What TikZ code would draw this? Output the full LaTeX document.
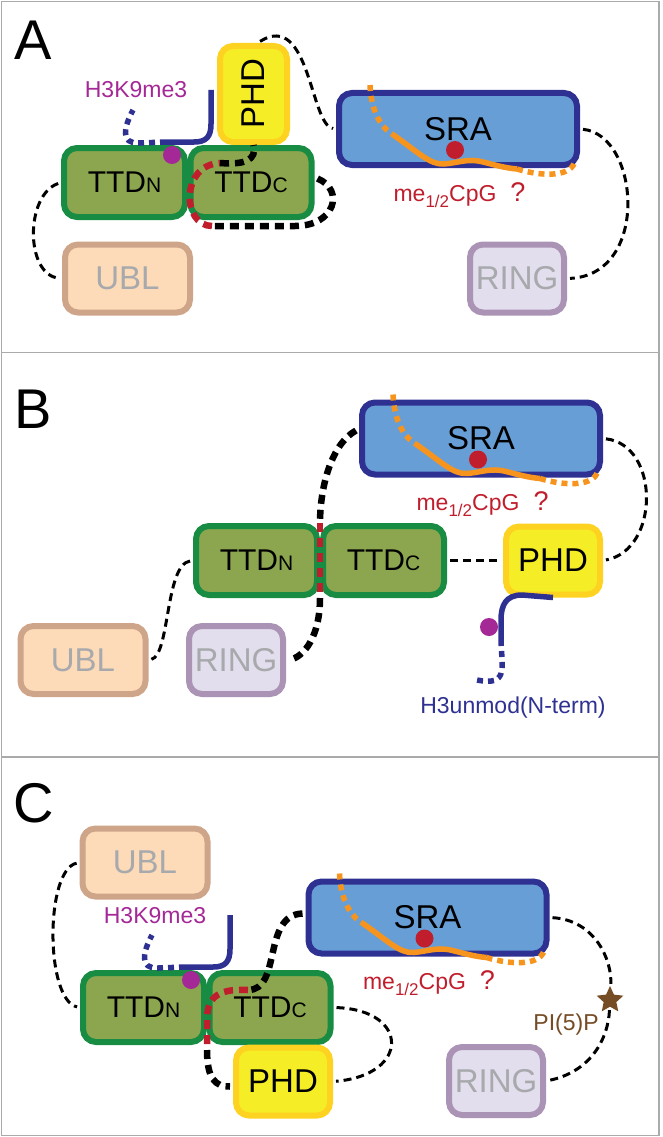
\documentclass[tikz,border=0pt]{standalone}
\usepackage{fontspec}
\setmainfont{Liberation Sans}
\usetikzlibrary{shapes.geometric}

\definecolor{ttdfill}{RGB}{139,166,78}
\definecolor{ttdline}{RGB}{24,140,66}
\definecolor{phdfill}{RGB}{245,237,38}
\definecolor{phdline}{RGB}{254,210,32}
\definecolor{srafill}{RGB}{104,158,214}
\definecolor{sraline}{RGB}{46,49,146}
\definecolor{ublfill}{RGB}{253,219,184}
\definecolor{ublline}{RGB}{206,165,136}
\definecolor{ringfill}{RGB}{227,222,237}
\definecolor{ringline}{RGB}{171,147,181}
\definecolor{dimtext}{RGB}{167,169,172}
\definecolor{kmagenta}{RGB}{164,40,150}
\definecolor{cpgred}{RGB}{192,30,45}
\definecolor{dnaorange}{RGB}{247,148,29}
\definecolor{tailblue}{RGB}{46,49,146}
\definecolor{pipbrown}{RGB}{117,76,36}
\definecolor{panelgray}{RGB}{170,170,170}

\tikzset{
    dom/.style={rounded corners=13pt, line width=6pt, inner sep=0, font=\fontsize{33}{33}\selectfont},
    ttd/.style={dom, draw=ttdline, fill=ttdfill, minimum width=121pt, minimum height=69pt, font=\fontsize{30}{30}\selectfont},
    phd/.style={dom, draw=phdline, fill=phdfill, minimum width=94pt, minimum height=68pt},
    sra/.style={dom, draw=sraline, fill=srafill, minimum width=238pt, minimum height=72pt},
    ubl/.style={dom, draw=ublline, fill=ublfill, text=dimtext, minimum width=125pt, minimum height=68pt},
    ringbox/.style={dom, draw=ringline, fill=ringfill, text=dimtext, minimum width=94pt, minimum height=68pt},
    link/.style={line width=3pt, dash pattern=on 8pt off 5pt, shorten <=3pt, shorten >=3pt},
    hinge/.style={line width=6.5pt, dash pattern=on 9pt off 6pt},
    hingered/.style={hinge, draw=cpgred},
    dna/.style={draw=dnaorange, line width=5.5pt},
    dnadots/.style={dna, dash pattern=on 6pt off 5pt},
    tail/.style={draw=tailblue, line width=5.5pt},
    taildots/.style={tail, dash pattern=on 6pt off 5pt},
    blob/.style={circle, inner sep=0, minimum size=18pt},
    lbl/.style={font=\fontsize{23}{23}\selectfont},
    tag/.style={font=\fontsize{56}{56}\selectfont},
    panelbox/.style={draw=panelgray, line width=1.5pt}
}

\newcommand{\ttdn}{TTD{\fontsize{21}{21}\selectfont N}}
\newcommand{\ttdc}{TTD{\fontsize{21}{21}\selectfont C}}

% hemimethylated CpG strand on an SRA box
\newcommand{\cpg}[1]{
    \begin{scope}[shift={(#1.north west)}, shift={(-3,-3)}]
        \draw[dnadots] (37,-2) .. controls (38,20) and (45,38) .. (59,47);
        \draw[dna] (59,47) .. controls (85,65) and (97,78) .. (111,77) .. controls (125,76) and (135,71) .. (150,75) .. controls (162,78) and (172,81) .. (184,82);
        \draw[dnadots] (184,82) .. controls (210,90) and (240,90) .. (242,73);
        \node[blob, fill=cpgred] (dot#1) at (122,63) {};
        \node[lbl, text=cpgred, anchor=base] (me#1) at (112,114) {me\raisebox{-6pt}{\fontsize{17}{17}\selectfont 1/2}CpG};
        \node[lbl, text=cpgred, anchor=base, font=\fontsize{27}{27}\selectfont] (q#1) at (185,114) {?};
    \end{scope}
}

% H3K9me3 tail on a TTDN box
\newcommand{\hthree}[1]{
    \begin{scope}[shift={(#1.north west)}, shift={(-3,-3)}]
        \draw[tail] (153,-52) -- (153,-18) .. controls (153,-5) and (148,0) .. (136,0) -- (108,0);
        \draw[taildots] (108,0) -- (81,1) .. controls (62,2) and (66,-15) .. (75,-32);
        \node[blob, fill=kmagenta] (k#1) at (114,13) {};
        \node[lbl, text=kmagenta, anchor=base] (lbl#1) at (78,-44) {H3K9me3};
    \end{scope}
}

\begin{document}
\begin{tikzpicture}[x=1pt, y=-1pt]
    \useasboundingbox (0,0) rectangle (663,1137);
    \draw[panelbox] (1.5,1.5) rectangle (659,352.5);
    \draw[panelbox] (1.5,352.5) rectangle (659,757);
    \draw[panelbox] (1.5,757) rectangle (659,1135.5);

    % A
    \node[tag] (tagA) at (33,40) {A};
    \node[phd, minimum width=67pt, minimum height=96pt] (phdA) at (253.5,94) {\rotatebox{90}{PHD}};
    \node[ttd] (ttdnA) at (124.5,182.5) {\ttdn};
    \node[ttd] (ttdcA) at (251,182.5) {\ttdc};
    \node[sra] (sraA) at (458,129) {SRA};
    \node[ubl] (ublA) at (127.5,278.5) {UBL};
    \node[ringbox] (ringA) at (517,278.5) {RING};
    \draw[link] (ttdnA.west) .. controls (25,195) and (25,275) .. (ublA.west);
    \draw[link] ([xshift=4pt]phdA.north) .. controls (310,10) and (310,125) .. (sraA.west);
    \draw[link] (sraA.east) .. controls (640,135) and (650,275) .. (ringA.east);
    \coordinate (turnA1) at (212,226);
    \coordinate (turnA2) at (220,163);
    \draw[hinge] ([xshift=3pt, yshift=4pt]ttdcA.east) .. controls (345,190) and (335,226) .. (295,226) -- (turnA1);
    \draw[hingered] (turnA1) .. controls (182,226) and (180,165) .. (turnA2);
    \draw[hinge] (turnA2) .. controls (245,165) and (257,160) .. (phdA.south);
    \hthree{ttdnA}
    \cpg{sraA}

    % B
    \node[tag] (tagB) at (33,409) {B};
    \node[sra] (sraB) at (481,438.5) {SRA};
    \node[ttd] (ttdnB) at (256.5,560.5) {\ttdn};
    \node[ttd] (ttdcB) at (383.5,560.5) {\ttdc};
    \node[phd] (phdB) at (553,560.5) {PHD};
    \node[ubl] (ublB) at (83,660) {UBL};
    \node[ringbox] (ringB) at (236,660) {RING};
    \coordinate (seamBt) at (320,523);
    \coordinate (seamBb) at (320,598);
    \draw[link] (ttdcB.east) -- (phdB.west);
    \draw[link] (sraB.east) .. controls (660,445) and (660,550) .. (phdB.east);
    \draw[link] (ttdnB.west) .. controls (165,565) and (170,655) .. (ublB.east);
    \draw[hinge] ([xshift=-3pt, yshift=8pt]sraB.west) .. controls (330,445) and (320,490) .. (seamBt);
    \draw[hingered] (seamBt) -- (seamBb);
    \draw[hinge] (seamBb) .. controls (320,635) and (305,657) .. ([xshift=3pt]ringB.east);
    \cpg{sraB}
    \draw[tail] (phdB.south) -- (522,595) .. controls (506,595) and (501,605) .. (501,620) -- (501,640);
    \draw[taildots] (501,640) .. controls (502,670) and (508,686) .. (477,680);
    \node[blob, fill=kmagenta] (kB) at (489,627) {};
    \node[lbl, text=tailblue, anchor=base] (unmodB) at (513,713) {H3unmod(N-term)};

    % C
    \node[tag] (tagC) at (34,803) {C};
    \node[ubl] (ublC) at (145,862.5) {UBL};
    \node[sra] (sraC) at (427.5,917.5) {SRA};
    \node[ttd] (ttdnC) at (143.5,1007.5) {\ttdn};
    \node[ttd] (ttdcC) at (270,1007.5) {\ttdc};
    \node[phd] (phdC) at (283,1081.5) {PHD};
    \node[ringbox] (ringC) at (496,1081) {RING};
    \node[star, star points=5, star point ratio=2.1, fill=pipbrown, inner sep=0, minimum size=28pt] (pip) at (610,1000) {};
    \draw[link] (ublC.west) .. controls (45,870) and (45,1000) .. (ttdnC.west);
    \draw[link] (sraC.east) .. controls (595,920) and (612,960) .. (pip);
    \draw[link] (pip) .. controls (608,1040) and (590,1072) .. (ringC.east);
    \draw[link] (ttdcC.east) .. controls (410,1010) and (410,1075) .. (phdC.east);
    \coordinate (turnC1) at (248,990);
    \coordinate (turnC2) at (207,1050);
    \draw[hinge] ([xshift=-3pt, yshift=4pt]sraC.west) .. controls (262,915) and (282,990) .. (turnC1);
    \draw[hingered] (turnC1) .. controls (215,988) and (207,1000) .. (207,1020) -- (turnC2);
    \draw[hinge] (turnC2) .. controls (207,1078) and (215,1087) .. ([xshift=-3pt, yshift=-5pt]phdC.west);
    \hthree{ttdnC}
    \cpg{sraC}
    \node[lbl, text=pipbrown, anchor=base] (pipC) at (566,1030) {PI(5)P};
\end{tikzpicture}
\end{document}
